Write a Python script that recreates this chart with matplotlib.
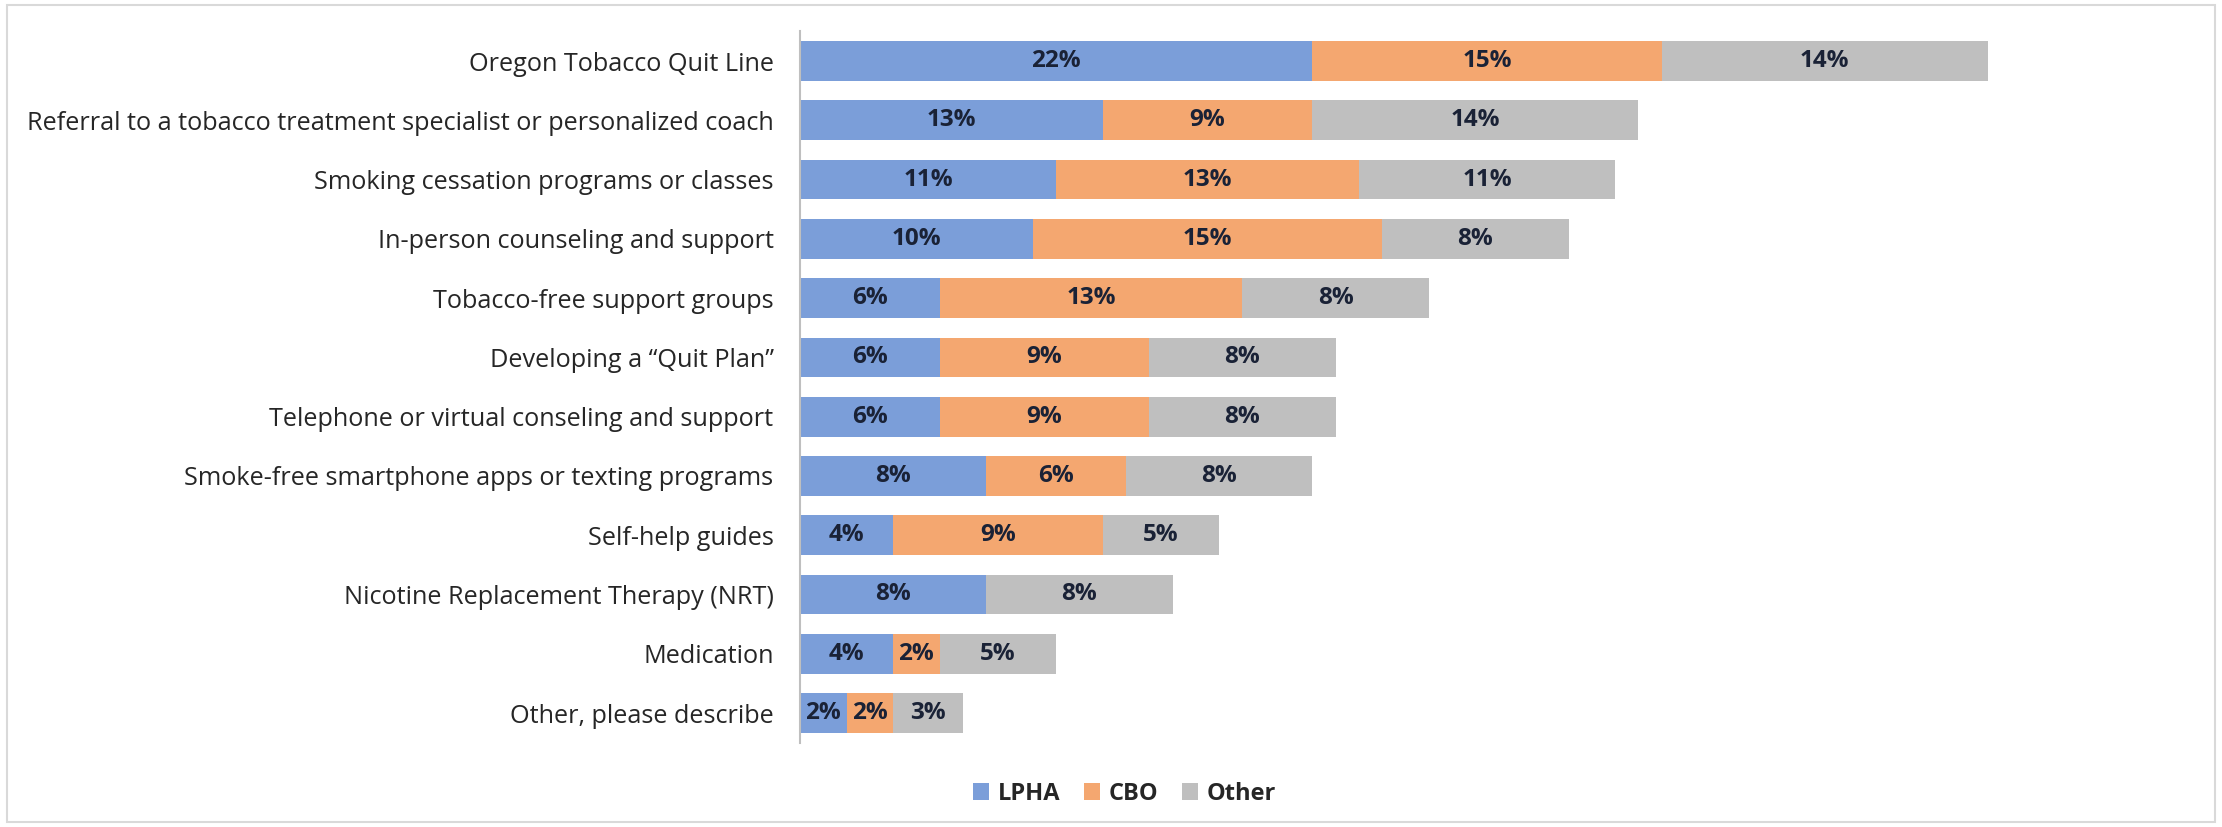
import numpy as np
import matplotlib
matplotlib.use("Agg")
from matplotlib import pyplot as plt
from matplotlib.patches import Rectangle

plt.rcParams['font.family'] = ['Open Sans', 'DejaVu Sans']

#categories, top to bottom
categories = ["Oregon Tobacco Quit Line",
              "Referral to a tobacco treatment specialist or personalized coach",
              "Smoking cessation programs or classes",
              "In-person counseling and support",
              "Tobacco-free support groups",
              "Developing a \u201cQuit Plan\u201d",
              "Telephone or virtual conseling and support",
              "Smoke-free smartphone apps or texting programs",
              "Self-help guides",
              "Nicotine Replacement Therapy (NRT)",
              "Medication",
              "Other, please describe"]

lpha = [22, 13, 11, 10, 6, 6, 6, 8, 4, 8, 4, 2]
cbo = [15, 9, 13, 15, 13, 9, 9, 6, 9, 0, 2, 2]
other = [14, 14, 11, 8, 8, 8, 8, 8, 5, 8, 5, 3]

series_names = ["LPHA", "CBO", "Other"]
colors = ["#7b9ed9", "#f4a770", "#bfbfbf"]

fig = plt.figure(figsize=(22.22, 8.27), dpi=100)
ax = fig.add_axes([0.36, 0.102, 0.608, 0.86])

y = np.arange(len(categories))
left = np.zeros(len(categories))
for vals, name, col in zip([lpha, cbo, other], series_names, colors):
    vals = np.array(vals, dtype=float)
    bars = ax.barh(y, vals, left=left, height=0.67, color=col, label=name)
    for b, v in zip(bars, vals):
        if v > 0:
            ax.text(b.get_x() + b.get_width() / 2, b.get_y() + b.get_height() / 2,
                    "%d%%" % v, ha='center', va='center', fontsize=17.5,
                    fontweight='bold', color='#1a2236')
    left += vals

ax.set_ylim(len(categories) - 0.5, -0.5)
ax.set_xlim(0, 58)
ax.set_yticks(y)
ax.set_yticklabels(categories, fontsize=18.2, color='#262626')
ax.tick_params(axis='y', length=0, pad=19)
ax.set_xticks([])
for s in ['top', 'right', 'bottom']:
    ax.spines[s].set_visible(False)
ax.spines['left'].set_color('#bfbfbf')
ax.spines['left'].set_linewidth(1.5)

leg = fig.legend(loc='center', bbox_to_anchor=(0.506, 0.04), ncol=3, frameon=False,
                 prop={'size': 17, 'weight': 'bold'}, handlelength=0.7, handleheight=0.7,
                 handletextpad=0.35, columnspacing=1.0)
for t in leg.get_texts():
    t.set_color('#262626')

#light border around chart area
fig.patches.append(Rectangle((0.003, 0.006), 0.994, 0.988, transform=fig.transFigure,
                             fill=False, edgecolor='#d9d9d9', linewidth=1.5))

fig.savefig("out.png", dpi=100)
